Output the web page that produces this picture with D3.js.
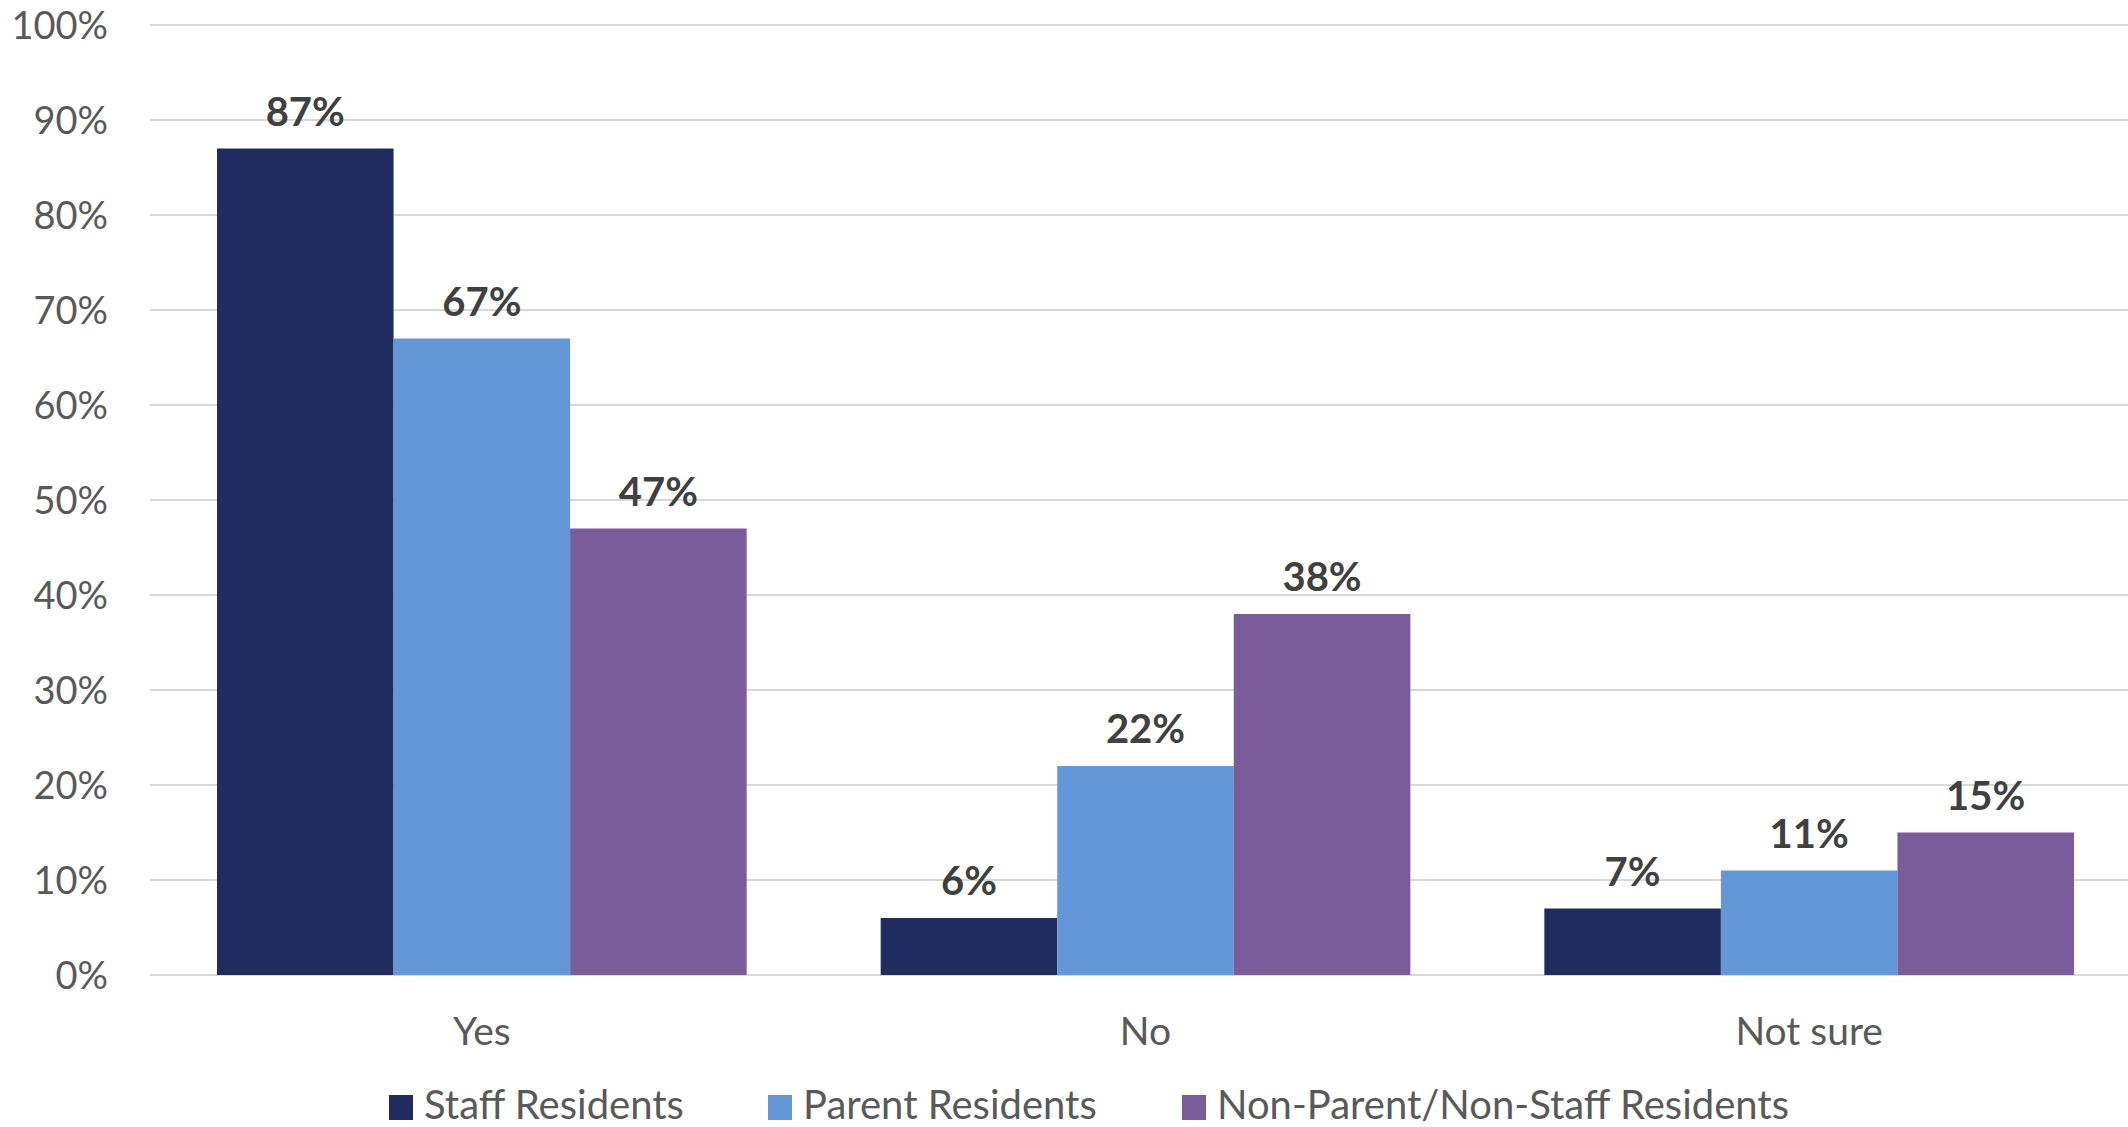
<!DOCTYPE html>
<html><head><meta charset="utf-8">
<script src="https://d3js.org/d3.v7.min.js"></script>
<style>html,body{margin:0;padding:0;background:#fff;}svg{display:block;}</style>
</head><body>
<script>
const categories = ["Yes", "No", "Not sure"];
const seriesNames = ["Staff Residents", "Parent Residents", "Non-Parent/Non-Staff Residents"];
const staffValues = [87, 6, 7];
const parentValues = [67, 22, 11];
const nonParentValues = [47, 38, 15];
const yTicks = [0, 10, 20, 30, 40, 50, 60, 70, 80, 90, 100];
const colors = ["#212C5E", "#6497D7", "#7B5C9B"];

const W = 2128, H = 1127;
const font = "Lato, 'Source Sans Pro', sans-serif";
const svg = d3.select("body").append("svg").attr("width", W).attr("height", H);

const series = [staffValues, parentValues, nonParentValues];
const x0 = d3.scaleBand().domain(categories).range([150, 2141]).paddingInner(0).paddingOuter(0);
const innerPad = 67;
const x1 = d3.scaleBand().domain(seriesNames).range([innerPad, x0.bandwidth() - innerPad]).padding(0);
const y = d3.scaleLinear().domain([0, 100]).range([975, 25]);

// gridlines
svg.append("g").selectAll("line").data(yTicks).join("line")
  .attr("x1", 150).attr("x2", W)
  .attr("y1", d => y(d)).attr("y2", d => y(d))
  .attr("stroke", "#d9d9d9").attr("stroke-width", 2);

// y axis labels
const yAxis = d3.axisLeft(y).tickValues(yTicks).tickFormat(d => d + "%").tickSize(0).tickPadding(0);
const yg = svg.append("g").attr("transform", "translate(108,0)").call(yAxis);
yg.select(".domain").remove();
yg.selectAll("text").attr("font-family", font).attr("font-size", 38).attr("fill", "#595959").attr("dy", "0.36em");

// bars
const groups = svg.append("g").selectAll("g").data(categories).join("g")
  .attr("transform", d => `translate(${x0(d)},0)`);
groups.each(function(cat, ci) {
  const g = d3.select(this);
  const data = seriesNames.map((s, si) => ({s, si, v: series[si][ci]}));
  g.selectAll("rect").data(data).join("rect")
    .attr("x", d => x1(d.s)).attr("width", x1.bandwidth())
    .attr("y", d => y(d.v)).attr("height", d => y(0) - y(d.v))
    .attr("fill", d => colors[d.si]);
  g.selectAll("text").data(data).join("text")
    .attr("x", d => x1(d.s) + x1.bandwidth() / 2)
    .attr("y", d => y(d.v) - 23)
    .attr("text-anchor", "middle")
    .attr("font-family", font).attr("font-weight", "bold").attr("font-size", 40)
    .attr("fill", "#404040")
    .text(d => d.v + "%");
});

// x axis category labels
const xAxis = d3.axisBottom(x0).tickSize(0).tickPadding(0);
const xg = svg.append("g").attr("transform", "translate(0,1045)").call(xAxis);
xg.select(".domain").remove();
xg.selectAll("text").attr("font-family", font).attr("font-size", 39).attr("fill", "#595959").attr("dy", 0);

// legend
const legendX = [389, 768, 1182];
const lg = svg.append("g").selectAll("g").data(seriesNames).join("g")
  .attr("transform", (d, i) => `translate(${legendX[i]},0)`);
lg.append("rect").attr("x", 0).attr("y", 1095).attr("width", 24).attr("height", 25)
  .attr("fill", (d, i) => colors[i]);
lg.append("text").attr("x", 35).attr("y", 1119)
  .attr("font-family", font).attr("font-size", 40).attr("fill", "#595959")
  .text(d => d);
</script>
</body></html>
